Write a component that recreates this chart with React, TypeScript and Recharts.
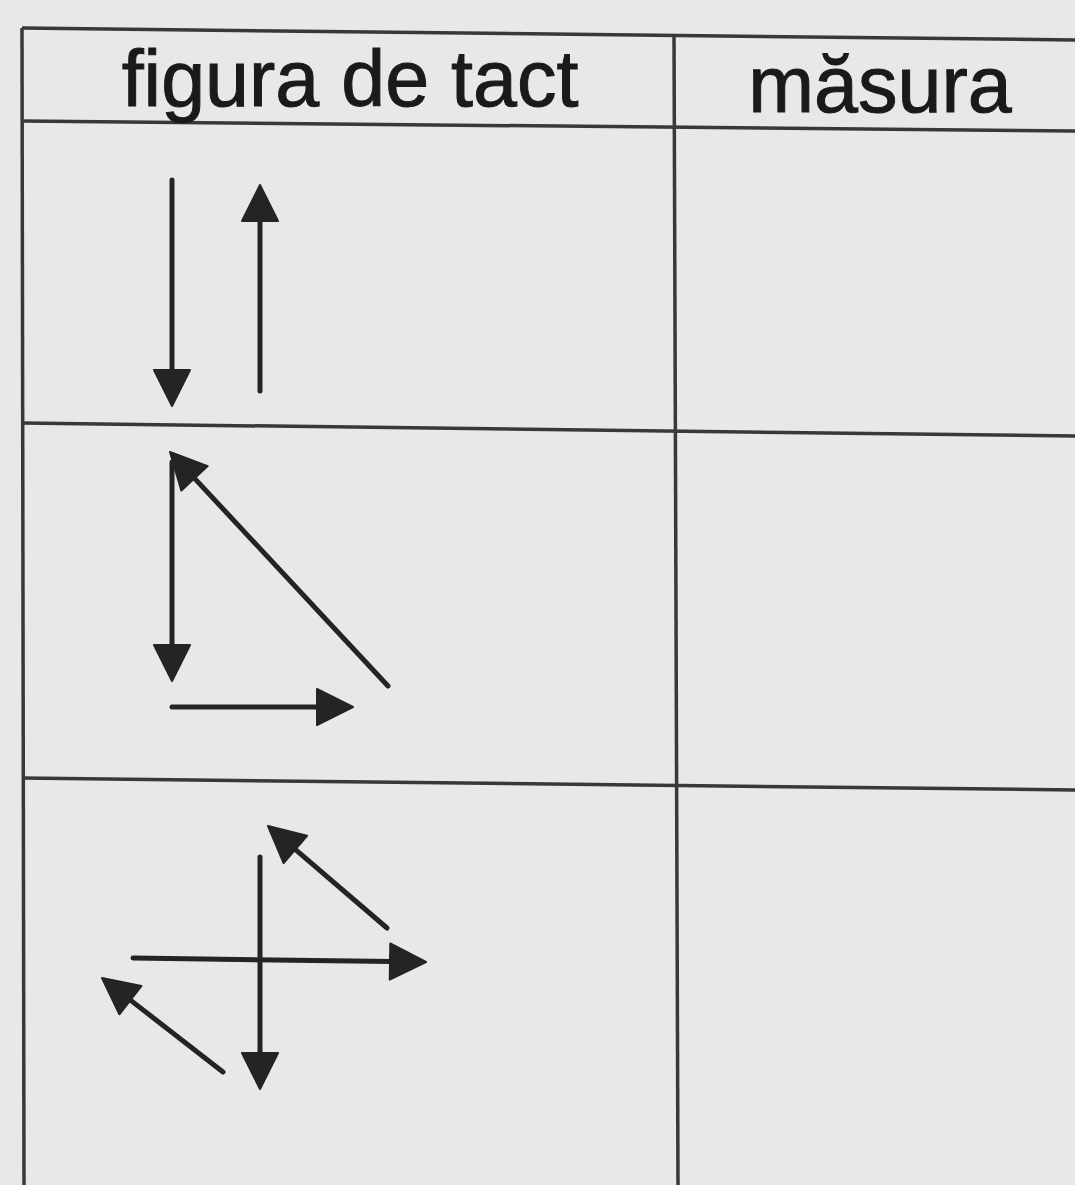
import { ComposedChart, XAxis, YAxis, ReferenceLine, ReferenceDot } from "recharts";

const headers = ["figura de tact", "măsura"];
const headerX = [350, 880];
const headerY = [106, 112];

// table rules (it is slightly tilted)
const rowRules = [
  { x1: 22, y1: 28, x2: 1075, y2: 40 },
  { x1: 22, y1: 121, x2: 1075, y2: 131 },
  { x1: 22, y1: 423, x2: 1075, y2: 436 },
  { x1: 22, y1: 778, x2: 1075, y2: 790 },
];
const colRules = [
  { x1: 22, y1: 28, x2: 24, y2: 1185 },
  { x1: 674, y1: 34, x2: 678, y2: 1185 },
];

// beat patterns: each arrow goes from tail to tip
const twoBeats = [
  { x1: 172, y1: 180, x2: 172, y2: 406 },
  { x1: 260, y1: 391, x2: 260, y2: 185 },
];
const threeBeats = [
  { x1: 172, y1: 462, x2: 172, y2: 681 },
  { x1: 172, y1: 707, x2: 353, y2: 707 },
  { x1: 388, y1: 686, x2: 170, y2: 452 },
];
const fourBeats = [
  { x1: 260, y1: 857, x2: 260, y2: 1089 },
  { x1: 223, y1: 1072, x2: 102, y2: 978 },
  { x1: 133, y1: 958, x2: 426, y2: 962 },
  { x1: 387, y1: 928, x2: 268, y2: 826 },
];

const W = 1075;
const H = 1185;
const INK = "#242424";
const RULE = "#383838";

function Arrow(p: any) {
  const { x1, y1, x2, y2 } = p;
  const dx = x2 - x1;
  const dy = y2 - y1;
  const len = Math.sqrt(dx * dx + dy * dy) || 1;
  const ux = dx / len;
  const uy = dy / len;
  const head = 36;
  const half = 18;
  const bx = x2 - ux * head;
  const by = y2 - uy * head;
  const pts = `${x2},${y2} ${bx - uy * half},${by + ux * half} ${bx + uy * half},${by - ux * half}`;
  return (
    <g>
      <line x1={x1} y1={y1} x2={bx + ux * 2} y2={by + uy * 2} stroke={INK} strokeWidth={5} strokeLinecap="round" />
      <polygon points={pts} fill={INK} stroke={INK} strokeWidth={2} strokeLinejoin="round" />
    </g>
  );
}

function Header(p: any) {
  return (
    <text
      x={p.cx}
      y={p.cy}
      textAnchor="middle"
      fontFamily="'Liberation Sans', Arial, sans-serif"
      fontSize={79}
      fill="#1a1a1a"
      stroke="#1a1a1a"
      strokeWidth={1}
    >
      {p.label}
    </text>
  );
}

export default function App() {
  const arrows = [...twoBeats, ...threeBeats, ...fourBeats];
  const rules = [...rowRules, ...colRules];
  return (
    <div style={{ position: "absolute", left: 0, top: 0, width: W, height: H, background: "#e8e8e6" }}>
      <ComposedChart width={W} height={H} margin={{ top: 0, right: 0, bottom: 0, left: 0 }}>
        <XAxis type="number" dataKey="x" domain={[0, W]} hide allowDataOverflow />
        <YAxis type="number" dataKey="y" domain={[0, H]} reversed hide allowDataOverflow />
        {rules.map((r, i) => (
          <ReferenceLine
            key={"r" + i}
            segment={[{ x: r.x1, y: r.y1 }, { x: r.x2, y: r.y2 }]}
            stroke={RULE}
            strokeWidth={3.5}
            ifOverflow="visible"
          />
        ))}
        {arrows.map((a, i) => (
          <ReferenceLine
            key={"a" + i}
            segment={[{ x: a.x1, y: a.y1 }, { x: a.x2, y: a.y2 }]}
            ifOverflow="visible"
            shape={Arrow}
          />
        ))}
        {headers.map((h, i) => (
          <ReferenceDot
            key={h}
            x={headerX[i]}
            y={headerY[i]}
            r={0}
            ifOverflow="visible"
            shape={(p: any) => <Header {...p} label={h} />}
          />
        ))}
      </ComposedChart>
    </div>
  );
}
